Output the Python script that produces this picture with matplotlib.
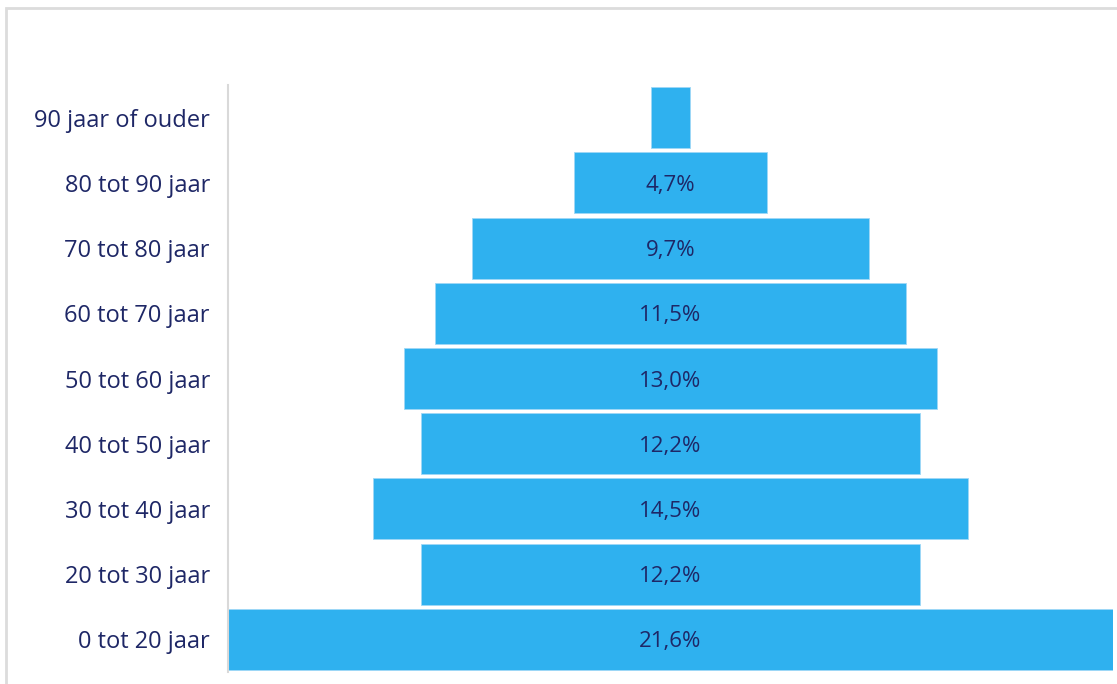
import matplotlib
matplotlib.use("Agg")
import matplotlib.pyplot as plt
from matplotlib.patches import Rectangle

categories = ["0 tot 20 jaar", "20 tot 30 jaar", "30 tot 40 jaar", "40 tot 50 jaar",
              "50 tot 60 jaar", "60 tot 70 jaar", "70 tot 80 jaar", "80 tot 90 jaar",
              "90 jaar of ouder"]
values = [21.6, 12.2, 14.5, 12.2, 13.0, 11.5, 9.7, 4.7, 0.95]
labels = ["21,6%", "12,2%", "14,5%", "12,2%", "13,0%", "11,5%", "9,7%", "4,7%", ""]

plt.rcParams['font.family'] = ['Open Sans', 'DejaVu Sans']
navy = "#1e2766"
blue = "#2fb1ef"

W, H = 1117, 684
fig = plt.figure(figsize=(W / 100, H / 100), dpi=100)
ax = fig.add_axes([228 / W, 1 - 672 / H, (1113 - 228) / W, (672 - 85) / H])

y = list(range(len(categories)))
lefts = [-v / 2 for v in values]
ax.barh(y, values, left=lefts, height=0.935, color=blue, edgecolor="#9fd8f6", linewidth=0.6)
for yi, lab in zip(y, labels):
    ax.text(0, yi, lab, ha="center", va="center_baseline", color=navy, fontsize=16)

ax.set_xlim(-10.8, 10.8)
ax.set_ylim(-0.5, len(categories) - 0.5)
ax.set_yticks(y)
ax.set_yticklabels(categories, fontsize=17, color=navy)
ax.tick_params(axis="y", length=0, pad=13)
ax.set_xticks([])
for s in ["top", "right", "bottom"]:
    ax.spines[s].set_visible(False)
ax.spines["left"].set_color("#d9d9d9")
ax.spines["left"].set_linewidth(1.5)

fig.patches.append(Rectangle((6 / W, -0.1), 1.2, 1 - 8 / H + 0.1, transform=fig.transFigure,
                             fill=False, edgecolor="#dcdcdc", linewidth=2))
fig.savefig("out.png", dpi=100)
